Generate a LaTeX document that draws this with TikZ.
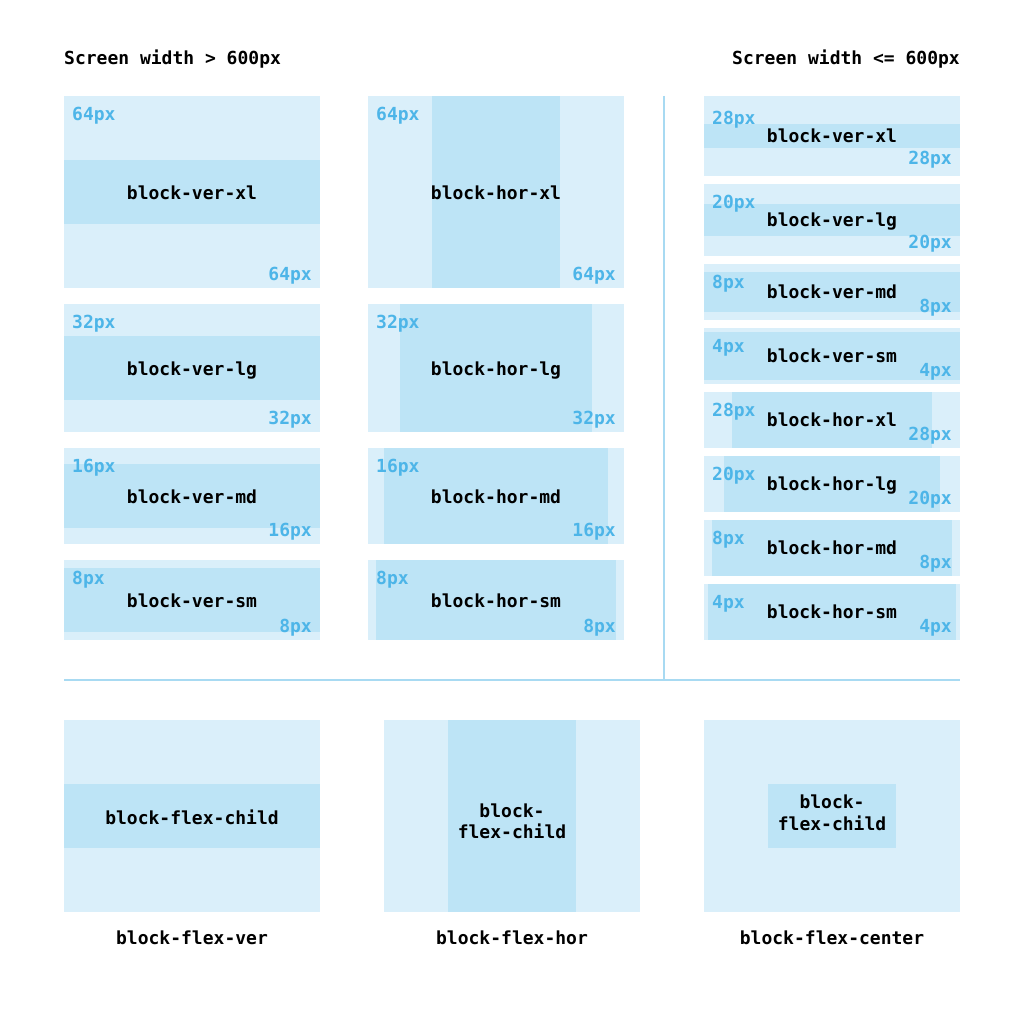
\documentclass[tikz,border=0pt]{standalone}
\usepackage{fontspec}
\setmonofont{DejaVu Sans Mono}
\newfontfamily\monobold{DejaVu Sans Mono Bold}
\definecolor{outerblue}{HTML}{DAEFFA}
\definecolor{innerblue}{HTML}{BDE4F6}
\definecolor{pxblue}{HTML}{4DB5E8}
\definecolor{lineblue}{HTML}{A8DAF2}
\begin{document}
\begin{tikzpicture}[x=1pt,y=-1pt,
  outerbox/.style={fill=outerblue,draw=none},
  innerbox/.style={fill=innerblue,draw=none},
  lbl/.style={inner sep=0pt,font=\fontsize{18}{21}\monobold,text=black},
  pxl/.style={inner sep=0pt,font=\fontsize{18}{21}\monobold,text=pxblue},
  tl/.style={pxl,anchor=base west},
  br/.style={pxl,anchor=base east},
  divider/.style={draw=lineblue,line width=2pt}]
\useasboundingbox (0,0) rectangle (1024,1024);
\fill[white] (0,0) rectangle (1024,1024);

% headers
\node[lbl,anchor=base west] (h1) at (64,65) {Screen width > 600px};
\node[lbl,anchor=base east] (h2) at (960,65) {Screen width <= 600px};

% column 1: vertical padding
\foreach \t/\b/\p/\name in {96/288/64/xl,304/432/32/lg,448/544/16/md,560/640/8/sm}{
  \fill[outerblue] (64,\t) rectangle (320,\b);
  \fill[innerblue] (64,\t+\p) rectangle (320,\b-\p);
  \node[lbl,anchor=base] (cv-\name) at (192,{(\t+\b)/2+7.5}) {block-ver-\name};
  \node[tl] (cvt-\name) at (72,\t+24.5) {\p px};
  \node[br] (cvb-\name) at (312,\b-7.5) {\p px};
}

% column 2: horizontal padding
\foreach \t/\b/\p/\name in {96/288/64/xl,304/432/32/lg,448/544/16/md,560/640/8/sm}{
  \fill[outerblue] (368,\t) rectangle (624,\b);
  \fill[innerblue] (368+\p,\t) rectangle (624-\p,\b);
  \node[lbl,anchor=base] (ch-\name) at (496,{(\t+\b)/2+7.5}) {block-hor-\name};
  \node[tl] (cht-\name) at (376,\t+24.5) {\p px};
  \node[br] (chb-\name) at (616,\b-7.5) {\p px};
}

% column 3: small screen, vertical
\foreach \t/\b/\p/\name/\tt/\bb in {96/176/28/xl/28.5/11.5,184/256/20/lg/24.5/7.5,264/320/8/md/24.5/7.5,328/384/4/sm/24.5/7.5}{
  \fill[outerblue] (704,\t) rectangle (960,\b);
  \fill[innerblue] (704,\t+\p) rectangle (960,\b-\p);
  \node[lbl,anchor=base] (sv-\name) at (832,{(\t+\b)/2+6.5}) {block-ver-\name};
  \node[tl] (svt-\name) at (712,\t+\tt) {\p px};
  \node[br] (svb-\name) at (952,\b-\bb) {\p px};
}
% column 3: small screen, horizontal
\foreach \t/\b/\p/\name in {392/448/28/xl,456/512/20/lg,520/576/8/md,584/640/4/sm}{
  \fill[outerblue] (704,\t) rectangle (960,\b);
  \fill[innerblue] (704+\p,\t) rectangle (960-\p,\b);
  \node[lbl,anchor=base] (sh-\name) at (832,{(\t+\b)/2+6.5}) {block-hor-\name};
  \node[tl] (sht-\name) at (712,\t+24.5) {\p px};
  \node[br] (shb-\name) at (952,\b-7.5) {\p px};
}

% dividers
\coordinate (vtop) at (664,96);
\coordinate (vbot) at (664,680);
\coordinate (hl) at (64,680);
\coordinate (hr) at (960,680);
\draw[divider] (vtop) -- (vbot);
\draw[divider] (hl) -- (hr);

% bottom row
\fill[outerblue] (64,720) rectangle (320,912);
\fill[innerblue] (64,784) rectangle (320,848);
\node[lbl,anchor=base] (fa) at (192,824) {block-flex-child};
\node[lbl,anchor=base] (ca) at (192,944) {block-flex-ver};

\fill[outerblue] (384,720) rectangle (640,912);
\fill[innerblue] (448,720) rectangle (576,912);
\node[lbl,anchor=base] (fb1) at (512,817) {block-};
\node[lbl,anchor=base] (fb2) at (512,838) {flex-child};
\node[lbl,anchor=base] (cb) at (512,944) {block-flex-hor};

\fill[outerblue] (704,720) rectangle (960,912);
\fill[innerblue] (768,784) rectangle (896,848);
\node[lbl,anchor=base] (fc1) at (832,808.5) {block-};
\node[lbl,anchor=base] (fc2) at (832,830.5) {flex-child};
\node[lbl,anchor=base] (cc) at (832,944) {block-flex-center};
\end{tikzpicture}
\end{document}
